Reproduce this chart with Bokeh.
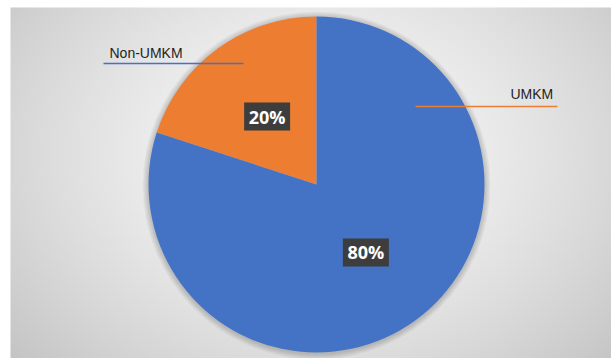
import numpy as np
from bokeh.plotting import figure
from bokeh.models import ColumnDataSource, Range1d
from bokeh.embed import file_html
from bokeh.resources import INLINE
from bokeh.core.properties import value

# ---- data ----
categories = ["Non-UMKM", "UMKM"]
shares = [20, 80]
slice_colors = ["#ED7D31", "#4472C4"]
pct_labels = ["20%", "80%"]
leader_colors = ["#4472C4", "#ED7D31"]

# ---- layout constants ----
W, H = 611, 358
CX, CY, R = 316, 174, 168
LABEL_R = 0.5 * R

p = figure(width=W, height=H, x_range=Range1d(0, W), y_range=Range1d(0, H),
           output_backend="svg", toolbar_location=None, min_border=0)
p.axis.visible = False
p.grid.visible = False
p.outline_line_color = None
p.background_fill_color = "white"
p.border_fill_color = "white"

# background radial gradient
nx, ny = 151, 88
xs = np.linspace(10, W, nx)
ys = np.linspace(0, 351, ny)
X, Y = np.meshgrid(xs, ys)
d = np.sqrt(((X - 316) / 340) ** 2 + ((Y - 205) / 260) ** 2)
g = (249 - 40 * np.clip(d, 0, 1.3) ** 1.5).astype(np.uint8)
img = np.empty((ny, nx), dtype=np.uint32)
view = img.view(dtype=np.uint8).reshape((ny, nx, 4))
view[:, :, 0] = g
view[:, :, 1] = g
view[:, :, 2] = g
view[:, :, 3] = 255
p.image_rgba(image=[img], x=10, y=0, dw=W - 10, dh=351)

# soft shadow around pie
for k in range(1, 7):
    p.circle(x=CX, y=CY - 1, radius=R + k, fill_color="black", fill_alpha=0.03, line_color=None)

# wedges (counterclockwise from 12 o'clock)
fracs = np.array(shares, dtype=float) / sum(shares)
cum = np.concatenate([[0], np.cumsum(fracs)])
start = np.pi / 2 + 2 * np.pi * cum[:-1]
end = np.pi / 2 + 2 * np.pi * cum[1:]
mid = (start + end) / 2
src = ColumnDataSource(dict(cat=categories, start=start, end=end, color=slice_colors,
                            lx=CX + LABEL_R * np.cos(mid), ly=CY + LABEL_R * np.sin(mid),
                            pct=pct_labels))
p.wedge(x=CX, y=CY, radius=R, start_angle="start", end_angle="end",
        fill_color="color", line_color=None, source=src)

# data label boxes
p.rect(x="lx", y="ly", width=46, height=28, fill_color="#3D3D3D", line_color=None, source=src)
p.text(x="lx", y="ly", text="pct", text_color="white", text_font=value("Open Sans"),
       text_font_style="bold", text_font_size="18px", text_align="center",
       text_baseline="middle", source=src)

# category labels with leader lines
name_x = [109, 510]
name_y = [306, 265]
line_x0 = [103, 415]
line_x1 = [243, 557]
line_y = [295, 252]
p.segment(x0=line_x0, y0=line_y, x1=line_x1, y1=line_y, line_color=leader_colors, line_width=1.5)
p.text(x=name_x, y=name_y, text=categories, text_color="#1F1F1F", text_font=value("Liberation Sans"),
       text_font_size="14px", text_align="left", text_baseline="alphabetic")

open("out.html", "w").write(file_html(p, INLINE))
